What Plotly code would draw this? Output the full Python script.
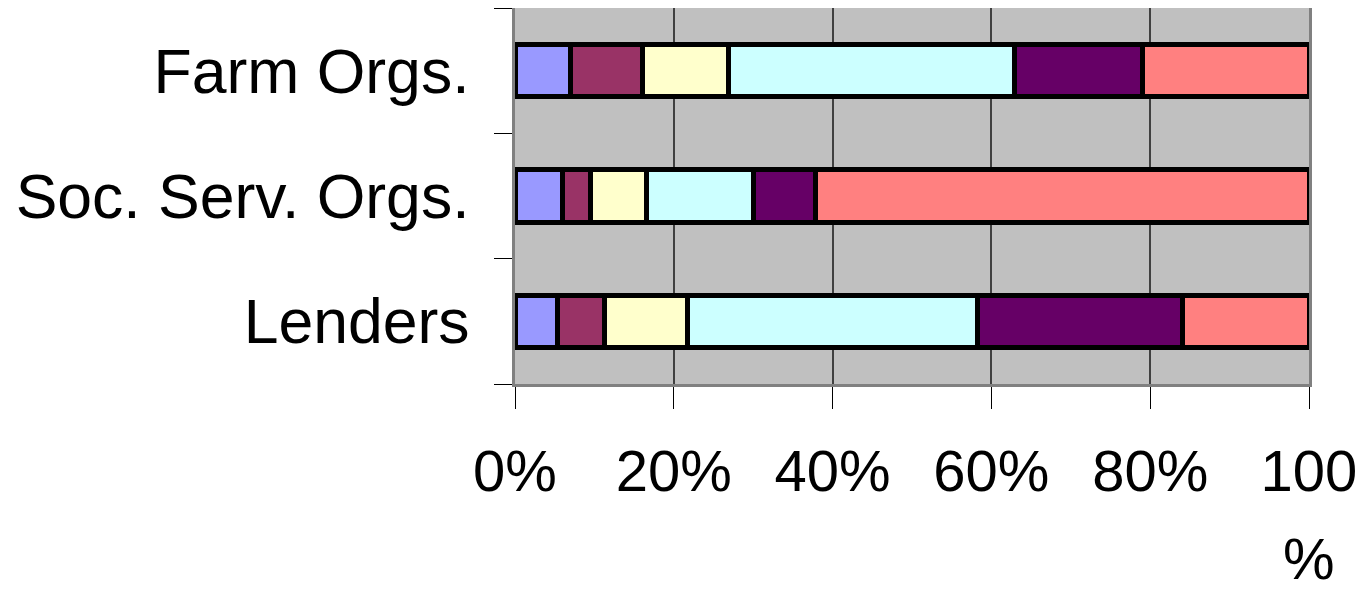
import plotly.graph_objects as go

categories = ["Lenders", "Soc. Serv. Orgs.", "Farm Orgs."]
series_names = ["Series 1", "Series 2", "Series 3", "Series 4", "Series 5", "Series 6"]
s1 = [5.3, 6.0, 7.0]
s2 = [6.0, 3.5, 9.1]
s3 = [10.4, 7.1, 10.8]
s4 = [36.5, 13.4, 36.0]
s5 = [25.9, 7.8, 16.1]
s6 = [15.9, 62.2, 21.0]
series_values = [s1, s2, s3, s4, s5, s6]
colors = ["#9999FF", "#993366", "#FFFFCC", "#CCFFFF", "#660066", "#FF8080"]
tick_vals = [0, 20, 40, 60, 80, 100]
tick_text = ["0%", "20%", "40%", "60%", "80%", "100"]
last_tick_wrap = "%"

fig = go.Figure()
for name, vals, col in zip(series_names, series_values, colors):
    fig.add_trace(go.Bar(
        y=categories, x=vals, name=name, orientation="h",
        marker=dict(color=col, line=dict(color="black", width=5)),
        showlegend=False,
    ))

tick_font = dict(family="Liberation Sans Narrow, Liberation Sans, Arial", size=58, color="black")

fig.update_layout(
    barmode="stack",
    bargap=0.58,
    width=1366, height=595,
    margin=dict(l=507, r=65, t=0, b=219, autoexpand=False),
    plot_bgcolor="#C0C0C0",
    paper_bgcolor="white",
    font=dict(family="Liberation Sans, Arial, sans-serif", color="black"),
)
fig.add_annotation(
    x=tick_vals[-1], xref="x", y=-0.372, yref="paper",
    text=last_tick_wrap, showarrow=False, xanchor="center", yanchor="top",
    font=tick_font,
)
fig.update_xaxes(
    range=[0, 100], tickvals=tick_vals, ticktext=tick_text,
    showgrid=True, gridcolor="#404040", gridwidth=1.5,
    showline=True, linecolor="#808080", linewidth=3, mirror=True,
    ticks="outside", ticklen=22, tickwidth=1.2, tickcolor="black",
    tickfont=tick_font,
    ticklabelstandoff=12, zeroline=False, automargin=False,
)
fig.update_yaxes(
    showgrid=False,
    showline=True, linecolor="#808080", linewidth=3, mirror=True,
    ticks="outside", ticklen=18, tickwidth=1.2, tickcolor="black",
    tickson="boundaries",
    tickfont=dict(family="Liberation Sans, Arial", size=62.5),
    ticklabelstandoff=30, automargin=False,
)

fig.write_html("out.html")
